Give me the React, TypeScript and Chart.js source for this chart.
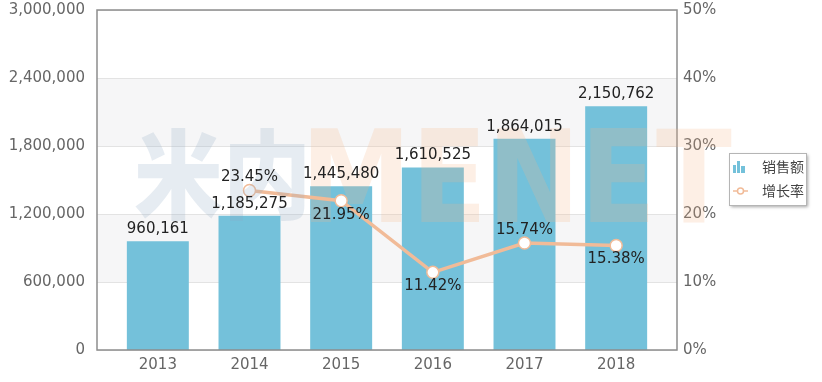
import React, { useEffect, useRef } from 'react';
import { Chart, registerables } from 'chart.js';
Chart.register(...registerables);

const years = ['2013', '2014', '2015', '2016', '2017', '2018'];
const sales = [960161, 1185275, 1445480, 1610525, 1864015, 2150762];
const growth: (number | null)[] = [null, 23.45, 21.95, 11.42, 15.74, 15.38];
const growthLabelSide = ['', 'above', 'below', 'below', 'above', 'below'];
const salesTicks = [0, 600000, 1200000, 1800000, 2400000, 3000000];
const growthTicks = [0, 10, 20, 30, 40, 50];
const seriesNames = ['销售额', '增长率'];
const watermarkCn = '米内';
const watermarkEn = 'MENET';

const BAR_COLOR = '#74c1da';
const LINE_COLOR = '#f1bb98';
const FRAME_PAD = 15;
const FONT = '"DejaVu Sans", Verdana, sans-serif';
const CJK = '"Noto Sans CJK SC", sans-serif';

const fmt = (v: number) => v.toLocaleString('en-US');

function fitText(ctx: CanvasRenderingContext2D, text: string, font: string, color: string,
  x0: number, y0: number, x1: number, y1: number) {
  ctx.save();
  ctx.font = font;
  ctx.textAlign = 'left';
  ctx.textBaseline = 'alphabetic';
  const m = ctx.measureText(text);
  const w = m.actualBoundingBoxLeft + m.actualBoundingBoxRight;
  const h = m.actualBoundingBoxAscent + m.actualBoundingBoxDescent;
  const sx = (x1 - x0) / w, sy = (y1 - y0) / h;
  ctx.translate(x0, y0);
  ctx.scale(sx, sy);
  ctx.fillStyle = color;
  ctx.fillText(text, m.actualBoundingBoxLeft, m.actualBoundingBoxAscent);
  ctx.restore();
}

const zeroPad = (s: any) => {
  s.paddingTop = 0;
  s.paddingBottom = 0;
  s.paddingLeft = 0;
  s.paddingRight = 0;
};

const decorPlugin = {
  id: 'decor',
  beforeDatasetsDraw(chart: any) {
    const { ctx, chartArea: ca, scales } = chart;
    const y = scales.y;
    const L = ca.left - FRAME_PAD, R = ca.right + FRAME_PAD;
    ctx.save();
    for (let i = 0; i < salesTicks.length - 1; i++) {
      if (i % 2 === 1) {
        const yt = y.getPixelForValue(salesTicks[i + 1]);
        const yb = y.getPixelForValue(salesTicks[i]);
        ctx.fillStyle = '#f6f6f7';
        ctx.fillRect(L, yt, R - L, yb - yt);
      }
    }
    ctx.strokeStyle = '#e3e3e3';
    ctx.lineWidth = 1;
    for (const t of salesTicks) {
      const py = Math.round(y.getPixelForValue(t)) + 0.5;
      ctx.beginPath();
      ctx.moveTo(L, py);
      ctx.lineTo(R, py);
      ctx.stroke();
    }
    ctx.restore();
  },
  afterDatasetsDraw(chart: any) {
    const { ctx, chartArea: ca } = chart;
    const L = ca.left - FRAME_PAD, R = ca.right + FRAME_PAD;
    ctx.save();
    ctx.strokeStyle = '#8d8d8d';
    ctx.lineWidth = 1.5;
    ctx.strokeRect(L, ca.top, R - L, ca.bottom - ca.top);
    ctx.restore();
  },
  afterDraw(chart: any) {
    const { ctx, chartArea: ca } = chart;
    const L = ca.left - FRAME_PAD, R = ca.right + FRAME_PAD;
    // watermark
    ctx.save();
    ctx.globalAlpha = 0.22;
    fitText(ctx, watermarkCn, `900 100px ${CJK}`, '#8fa9c6', L + 38, ca.top + 118, L + 208, ca.top + 212);
    fitText(ctx, watermarkEn, `bold 120px ${FONT}`, '#f5b68a', L + 214, ca.top + 118, R + 55, ca.top + 212);
    ctx.restore();

    ctx.save();
    ctx.font = `15px ${FONT}`;
    ctx.textAlign = 'center';
    ctx.textBaseline = 'middle';
    ctx.fillStyle = '#222';
    const barMeta = chart.getDatasetMeta(0);
    barMeta.data.forEach((el: any, i: number) => {
      ctx.fillText(fmt(sales[i]), el.x, el.y - 12);
    });
    const lineMeta = chart.getDatasetMeta(1);
    lineMeta.data.forEach((el: any, i: number) => {
      const v = growth[i];
      if (v == null) return;
      const dy = growthLabelSide[i] === 'above' ? -13 : 14;
      ctx.fillText(v.toFixed(2) + '%', el.x, el.y + dy);
    });
    ctx.restore();

    // legend
    const bx = R + 52, by = ca.top + 143, bw = 77, bh = 52;
    ctx.save();
    ctx.shadowColor = 'rgba(0,0,0,0.35)';
    ctx.shadowBlur = 3;
    ctx.shadowOffsetX = 2;
    ctx.shadowOffsetY = 2;
    ctx.fillStyle = '#fff';
    ctx.fillRect(bx, by, bw, bh);
    ctx.restore();
    ctx.save();
    ctx.strokeStyle = '#b5b5b5';
    ctx.lineWidth = 1;
    ctx.strokeRect(bx + 0.5, by + 0.5, bw, bh);
    const r1 = by + 14, r2 = by + 38;
    ctx.fillStyle = BAR_COLOR;
    ctx.fillRect(bx + 4, r1 - 2, 3, 8);
    ctx.fillRect(bx + 8, r1 - 6, 3, 12);
    ctx.fillRect(bx + 12, r1 - 1, 4, 7);
    ctx.strokeStyle = LINE_COLOR;
    ctx.lineWidth = 1.5;
    ctx.beginPath();
    ctx.moveTo(bx + 4, r2);
    ctx.lineTo(bx + 19, r2);
    ctx.stroke();
    ctx.fillStyle = '#fff';
    ctx.beginPath();
    ctx.arc(bx + 11.5, r2, 3, 0, Math.PI * 2);
    ctx.fill();
    ctx.stroke();
    ctx.font = `14px ${CJK}`;
    ctx.fillStyle = '#444';
    ctx.textAlign = 'left';
    ctx.textBaseline = 'middle';
    ctx.fillText(seriesNames[0], bx + 33, r1);
    ctx.fillText(seriesNames[1], bx + 33, r2);
    ctx.restore();
  },
};

export default function App() {
  const ref = useRef<HTMLCanvasElement>(null);
  useEffect(() => {
    const canvas = ref.current!;
    const chart = new Chart(canvas, {
      type: 'bar',
      data: {
        labels: years,
        datasets: [
          {
            type: 'bar',
            label: seriesNames[0],
            data: sales,
            backgroundColor: BAR_COLOR,
            categoryPercentage: 1,
            barPercentage: 0.676,
            yAxisID: 'y',
            order: 2,
          },
          {
            type: 'line',
            label: seriesNames[1],
            data: growth as any,
            yAxisID: 'y1',
            borderColor: LINE_COLOR,
            borderWidth: 3.5,
            pointRadius: 6,
            pointBorderWidth: 1.5,
            pointBackgroundColor: '#fff',
            pointBorderColor: LINE_COLOR,
            spanGaps: false,
            order: 1,
          } as any,
        ],
      },
      options: {
        responsive: false,
        animation: false,
        layout: { padding: { top: 10, left: 0, right: 0, bottom: 0 } },
        plugins: { legend: { display: false }, tooltip: { enabled: false } },
        scales: {
          x: {
            grid: { display: false, drawTicks: false },
            border: { display: false },
            ticks: { color: '#666', font: { family: FONT, size: 15 }, padding: 6 },
            afterFit: (s: any) => { s.height = 32; zeroPad(s); },
          },
          y: {
            position: 'left',
            min: salesTicks[0],
            max: salesTicks[salesTicks.length - 1],
            afterBuildTicks: (s: any) => { s.ticks = salesTicks.map((v) => ({ value: v })); },
            grid: { display: false, drawTicks: false },
            border: { display: false },
            ticks: {
              color: '#666',
              font: { family: FONT, size: 15 },
              padding: 27,
              callback: (v: any) => fmt(Number(v)),
            },
            afterFit: (s: any) => { s.width = 112; zeroPad(s); },
          },
          y1: {
            position: 'right',
            min: growthTicks[0],
            max: growthTicks[growthTicks.length - 1],
            afterBuildTicks: (s: any) => { s.ticks = growthTicks.map((v) => ({ value: v })); },
            grid: { display: false, drawTicks: false },
            border: { display: false },
            ticks: {
              color: '#666',
              font: { family: FONT, size: 15 },
              padding: 21,
              callback: (v: any) => v + '%',
            },
            afterFit: (s: any) => { s.width = 160; zeroPad(s); },
          },
        },
      },
      plugins: [decorPlugin],
    } as any);
    return () => chart.destroy();
  }, []);
  return (
    <div style={{ position: 'absolute', left: 0, top: 0, width: 822, height: 382 }}>
      <canvas ref={ref} width={822} height={382} style={{ display: 'block' }} />
    </div>
  );
}
